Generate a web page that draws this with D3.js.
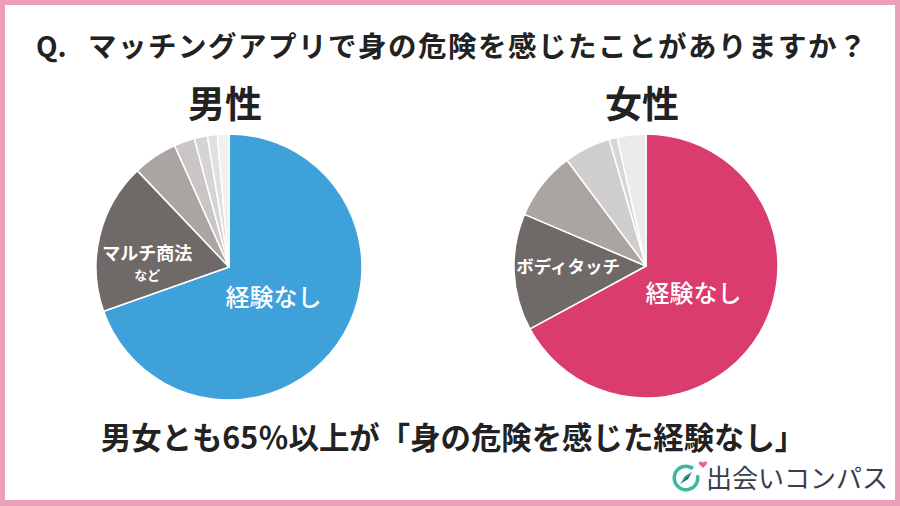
<!DOCTYPE html>
<html>
<head>
<meta charset="utf-8">
<script src="https://cdn.jsdelivr.net/npm/d3@7"></script>
<style>
  html, body { margin: 0; padding: 0; background: #fff; }
  svg { display: block; font-family: "Noto Sans CJK JP", "Noto Sans", sans-serif; }
</style>
</head>
<body>
<svg id="chart"></svg>
<script>
// values (percent, clockwise from 12 o'clock)
const maleLabels = ["経験なし", "マルチ商法など", "その他1", "その他2", "その他3", "その他4", "その他5"];
const maleValues = [69.6, 18.3, 5.4, 2.5, 1.6, 1.2, 1.4];
const maleColors = ["#3ea1d9", "#6f6967", "#aaa5a3", "#c9c6c5", "#d6d4d3", "#e1dfdf", "#f1f0f0"];

const femaleLabels = ["経験なし", "ボディタッチ", "その他1", "その他2", "その他3", "その他4"];
const femaleValues = [67.1, 14.3, 8.4, 5.7, 1.0, 3.5];
const femaleColors = ["#d93c6d", "#6f6967", "#aaa5a3", "#d0cecd", "#d9d7d6", "#ecebeb"];

const W = 900, H = 506;
const svg = d3.select("#chart").attr("width", W).attr("height", H);

// pink frame
svg.append("rect").attr("width", W).attr("height", H).attr("fill", "#eb9fba");
svg.append("rect").attr("x", 5).attr("y", 5).attr("width", W - 10).attr("height", H - 11).attr("fill", "#fff");

// question
svg.append("text")
  .attr("x", 36).attr("y", 57)
  .attr("font-size", 28).attr("font-weight", 700).attr("fill", "#222")
  .text("Q.");
svg.append("text")
  .attr("x", 88).attr("y", 57)
  .attr("font-size", 28.5).attr("font-weight", 700).attr("fill", "#222")
  .attr("letter-spacing", 1.5)
  .text("マッチングアプリで身の危険を感じたことがありますか？");

const pie = d3.pie().sort(null).value(d => d.value);

function drawPie(cx, cy, r, title, labels, values, colors, labelSpec) {
  const g = svg.append("g").attr("transform", `translate(${cx},${cy})`);
  const data = labels.map((l, i) => ({ label: l, value: values[i], color: colors[i] }));
  const arcs = pie(data);
  const arc = d3.arc().innerRadius(0).outerRadius(r);

  g.selectAll("path")
    .data(arcs)
    .join("path")
    .attr("d", arc)
    .attr("fill", d => d.data.color)
    .attr("stroke", "#fff")
    .attr("stroke-width", 1.5)
    .attr("stroke-linejoin", "round");

  svg.append("text")
    .attr("x", cx - 4).attr("y", 118)
    .attr("text-anchor", "middle")
    .attr("font-size", 37).attr("font-weight", 700).attr("fill", "#222")
    .text(title);

  labelSpec.forEach(s => {
    const a = arcs[s.index];
    const [x, y] = d3.arc().innerRadius(s.radius).outerRadius(s.radius).centroid(a);
    const t = g.append("text")
      .attr("text-anchor", "middle")
      .attr("fill", "#fff")
      .attr("font-weight", s.weight || 500);
    s.lines.forEach((ln, k) => {
      t.append("tspan")
        .attr("x", x + (s.dx || 0))
        .attr("y", y + (s.dy || 0) + k * s.lineGap)
        .attr("font-size", s.sizes[k])
        .text(ln);
    });
  });
}

drawPie(229, 267, 133, "男性", maleLabels, maleValues, maleColors, [
  { index: 0, radius: 52, lines: ["経験なし"], sizes: [24], lineGap: 0, dy: 9, dx: 2 },
  { index: 1, radius: 84, lines: ["マルチ商法", "など"], sizes: [18, 13], lineGap: 20, dy: 13, dx: 0, weight: 700 }
]);

drawPie(646, 266, 132, "女性", femaleLabels, femaleValues, femaleColors, [
  { index: 0, radius: 53, lines: ["経験なし"], sizes: [24], lineGap: 0, dy: 9, dx: 2 },
  { index: 1, radius: 75, lines: ["ボディタッチ"], sizes: [17.5], lineGap: 0, dy: 3, dx: -3, weight: 700 }
]);

// conclusion
svg.append("text")
  .attr("x", 453).attr("y", 449)
  .attr("text-anchor", "middle")
  .attr("font-size", 30.4).attr("font-weight", 700).attr("fill", "#222")
  .text("男女とも65％以上が「身の危険を感じた経験なし」");

// logo
const logo = svg.append("g").attr("transform", "translate(686,478)");
logo.append("path")
  .attr("d", d3.arc().innerRadius(10).outerRadius(13.5).startAngle(Math.PI * 0.42).endAngle(Math.PI * 2.2)())
  .attr("fill", "#3db89c");
logo.append("path").attr("d", "M6,-6 L-6,6 L-1,-2 Z").attr("fill", "#2e9d8e");
logo.append("path").attr("d", "M6,-6 L-6,6 L2,1 Z").attr("fill", "#1f4f70");
logo.append("path")
  .attr("d", "M17,-15 c-1.5,-2.5 -5,-1.5 -4,1 l4,4 l4,-4 c1,-2.5 -2.5,-3.5 -4,-1 z")
  .attr("fill", "#e2668f");
svg.append("text")
  .attr("x", 706).attr("y", 488)
  .attr("font-size", 26).attr("font-weight", 400).attr("fill", "#3c3c4e")
  .text("出会いコンパス");
</script>
</body>
</html>
